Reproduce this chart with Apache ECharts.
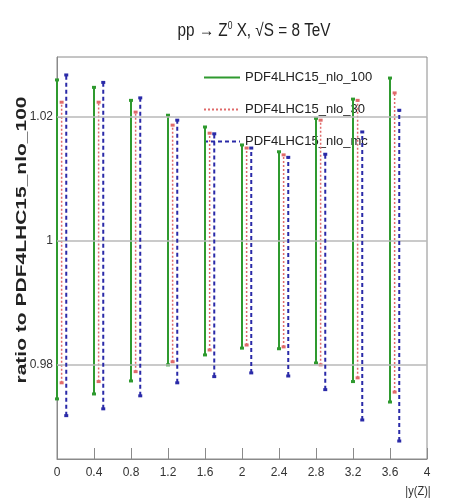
<!DOCTYPE html>
<html>
<head>
<meta charset="utf-8">
<script src="https://cdn.jsdelivr.net/npm/echarts@6/dist/echarts.min.js"></script>
<style>html,body{margin:0;padding:0;background:#fff;}#c{width:452px;height:504px;}</style>
</head>
<body>
<div id="c"></div>
<script>
const xCenters = [0, 0.4, 0.8, 1.2, 1.6, 2.0, 2.4, 2.8, 3.2, 3.6];
const xTicks = [0, 0.4, 0.8, 1.2, 1.6, 2, 2.4, 2.8, 3.2, 3.6, 4];
const yTicks = [0.98, 1, 1.02];
const seriesNames = ['PDF4LHC15_nlo_100', 'PDF4LHC15_nlo_30', 'PDF4LHC15_nlo_mc'];
const nlo100Hi = [1.0260, 1.0248, 1.0227, 1.0203, 1.0184, 1.0155, 1.0144, 1.0198, 1.0229, 1.0263];
const nlo100Lo = [0.9745, 0.9753, 0.9774, 0.9800, 0.9816, 0.9827, 0.9826, 0.9803, 0.9773, 0.9740];
const nlo30Hi  = [1.0224, 1.0224, 1.0208, 1.0187, 1.0174, 1.0150, 1.0139, 1.0195, 1.0227, 1.0239];
const nlo30Lo  = [0.9771, 0.9773, 0.9789, 0.9805, 0.9824, 0.9832, 0.9829, 0.9800, 0.9779, 0.9756];
const nloMcHi  = [1.0268, 1.0256, 1.0231, 1.0195, 1.0173, 1.0150, 1.0135, 1.0140, 1.0176, 1.0211];
const nloMcLo  = [0.9718, 0.9729, 0.9750, 0.9771, 0.9781, 0.9787, 0.9782, 0.9760, 0.9711, 0.9677];
const xShift = [0, 0.05, 0.1];

function segs(shift, lo, hi) {
  const out = [];
  xCenters.forEach((x, i) => {
    out.push([x + shift, lo[i]]);
    out.push([x + shift, hi[i]]);
    out.push([x + shift, null]);
  });
  return out;
}

const sans = '"Liberation Sans", Arial, sans-serif';
const chart = echarts.init(document.getElementById('c'), null, {renderer: 'canvas'});
const colors = ['#2f9a2f', '#e06a6a', '#2a2aa8'];
const lineStyles = [
  {color: colors[0], width: 2, type: 'solid'},
  {color: colors[1], width: 1.5, type: [2, 2]},
  {color: colors[2], width: 2, type: [4, 3]}
];
const datas = [segs(xShift[0], nlo100Lo, nlo100Hi), segs(xShift[1], nlo30Lo, nlo30Hi), segs(xShift[2], nloMcLo, nloMcHi)];

chart.setOption({
  animation: false,
  backgroundColor: '#fff',
  grid: {left: 57, right: 25, top: 57, bottom: 45, show: true, borderColor: '#8a8a8a', borderWidth: 1},
  legend: {
    orient: 'vertical', left: 198, top: 66, itemWidth: 36, itemHeight: 14, itemGap: 19, z: 1,
    data: seriesNames,
    itemStyle: {opacity: 0},
    textStyle: {fontFamily: sans, fontSize: 13, color: '#222'}
  },
  xAxis: {
    type: 'value', min: 0, max: 4, interval: 0.4,
    axisLine: {lineStyle: {color: '#8a8a8a'}},
    axisTick: {inside: true, length: 11, lineStyle: {color: '#8a8a8a'}},
    splitLine: {show: false},
    axisLabel: {fontFamily: sans, fontSize: 12, color: '#333', margin: 8,
      formatter: v => String(+v.toFixed(1))}
  },
  yAxis: {
    type: 'value', min: 0.9648, max: 1.0297,
    axisLine: {show: true, lineStyle: {color: '#8a8a8a'}},
    axisTick: {inside: true, length: 5, customValues: yTicks, lineStyle: {color: '#8a8a8a'}},
    splitLine: {show: false},
    axisLabel: {customValues: yTicks, fontFamily: sans, fontSize: 12, color: '#333', margin: 4,
      formatter: v => String(+v.toFixed(2))}
  },
  series: [0, 1, 2].map(k => ({
    name: seriesNames[k], type: 'line', data: datas[k], connectNulls: false,
    symbol: 'rect', symbolSize: [4, 3], showAllSymbol: true,
    itemStyle: {color: colors[k]},
    lineStyle: lineStyles[k],
    z: 3 + k,
    markLine: k === 0 ? {
      silent: true, symbol: 'none', label: {show: false}, animation: false,
      lineStyle: {color: '#b8b8b8', width: 1.5, type: 'solid'},
      data: yTicks.map(v => ({yAxis: v}))
    } : undefined
  })),
  graphic: [
    {type: 'text', x: 254, y: 31, scaleX: 0.85, style: {
      text: 'pp → Z{s|0} X, √S = 8 TeV',
      rich: {s: {fontSize: 10, fontFamily: sans, padding: [0, 0, 9, 0]}},
      fontFamily: sans, fontSize: 18, fill: '#222', align: 'center', verticalAlign: 'middle'}},
    {type: 'text', x: 22, y: 240, rotation: Math.PI / 2, scaleX: 1.4, style: {
      text: 'ratio to PDF4LHC15_nlo_100', fontFamily: sans,
      fontWeight: 'bold', fontSize: 15, fill: '#222', align: 'center', verticalAlign: 'middle'}},
    {type: 'text', x: 418, y: 491, scaleX: 0.85, style: {
      text: '|y(Z)|', fontFamily: sans, fontSize: 13, fill: '#333', align: 'center', verticalAlign: 'middle'}}
  ]
});
</script>
</body>
</html>
